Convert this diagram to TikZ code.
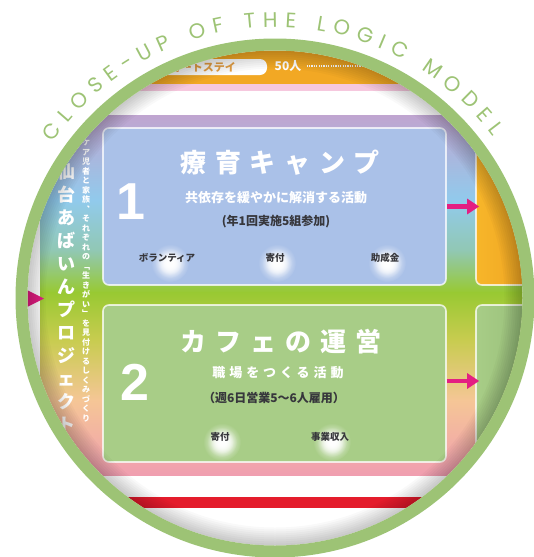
\documentclass[tikz,border=0pt]{standalone}
\usepackage{fontspec}
\setmainfont{Liberation Sans}
\newfontfamily\jp{Noto Sans CJK JP}
\newfontfamily\arcfont{Poppins}
\usetikzlibrary{decorations.text,arrows.meta,fadings}
\definecolor{ringgreen}{RGB}{157,195,117}
\definecolor{bluebox}{RGB}{170,193,232}
\definecolor{greenbox}{RGB}{168,205,135}
\definecolor{greenboxB}{RGB}{138,178,108}
\definecolor{orangeA}{RGB}{247,182,42}
\definecolor{orangeB}{RGB}{232,148,28}
\definecolor{topor}{RGB}{242,168,36}
\definecolor{magentaA}{RGB}{228,30,130}
\definecolor{redline}{RGB}{228,28,44}
\definecolor{pinkstripe}{RGB}{246,200,222}
\definecolor{fpurple}{RGB}{192,165,208}
\definecolor{fblue}{RGB}{145,202,236}
\definecolor{fteal}{RGB}{145,200,180}
\definecolor{fgreen}{RGB}{152,201,50}
\definecolor{fyellow}{RGB}{200,204,80}
\definecolor{fpeach}{RGB}{245,198,150}
\definecolor{fpink}{RGB}{240,158,176}
\definecolor{pilltext}{RGB}{232,162,70}
\definecolor{darktext}{RGB}{55,55,60}
\tikzfading[name=glowfade, inner color=transparent!0, outer color=transparent!100]
\begin{document}
\begin{tikzpicture}[x=1pt,y=-1pt,
  boxstyle/.style={draw=white, draw opacity=0.75, line width=1.6pt, rounded corners=6pt, inner sep=0pt, minimum height=157pt},
  titletext/.style={text=white, inner sep=0pt, font=\jp\bfseries\fontsize{26}{26}\selectfont\addfontfeature{LetterSpace=34}},
  subtext/.style={text=white, inner sep=0pt, font=\jp\bfseries\fontsize{13}{13}\selectfont},
  notetext/.style={text=darktext, inner sep=0pt, font=\jp\bfseries\fontsize{12}{12}\selectfont},
  numtext/.style={text=white, inner sep=0pt, font=\bfseries\fontsize{52}{52}\selectfont},
  tag/.style={text=darktext, inner sep=0pt, font=\jp\bfseries\fontsize{9.5}{9.5}\selectfont},
  glow/.style={white, path fading=glowfade},
  arr/.style={draw=magentaA, line width=4.5pt, -{Triangle[length=12pt, width=15pt]}}
]
\useasboundingbox (0,0) rectangle (534,557);
\begin{scope}
  \clip (275,298) circle (247.5);
  \fill[white] (0,0) rectangle (534,557);
  % top orange band
  \fill[topor] (0,0) rectangle (534,84);
  \fill[pinkstripe] (0,84) rectangle (534,91);
  \fill[white, rounded corners=7pt] (110,59) rectangle (267,75);
  \node[anchor=east, inner sep=0pt, text=pilltext, font=\jp\bfseries\fontsize{11}{11}\selectfont] (stay) at (236,67) {ショートステイ};
  \node[inner sep=0pt, text=white, font=\jp\bfseries\fontsize{12}{12}\selectfont] (fifty) at (288,66) {50人};
  \coordinate (dotend) at (460,66);
  \draw[white, line width=1.4pt, dash pattern=on 1.2pt off 1.2pt] ([xshift=5pt]fifty.east) -- (dotend);
  % gradient frame
  \shade[top color=fpurple, bottom color=fblue] (40,115) rectangle (560,200.5);
  \shade[top color=fblue, bottom color=fteal] (40,200) rectangle (560,250.5);
  \shade[top color=fteal, bottom color=fgreen] (40,250) rectangle (560,292.5);
  \shade[top color=fgreen, bottom color=fyellow] (40,292) rectangle (560,340.5);
  \shade[top color=fyellow, bottom color=fpeach] (40,340) rectangle (560,400.5);
  \shade[top color=fpeach, bottom color=fpink] (40,400) rectangle (560,475);
  \fill[redline] (0,497) rectangle (534,508);
  % left strip texts
  \node[anchor=north, align=center, inner sep=0pt, text=white, font=\jp\bfseries\fontsize{18}{23}\selectfont] (proj) at (66,163)
    {仙\\台\\あ\\ば\\い\\ん\\プ\\ロ\\ジ\\ェ\\ク\\ト};
  \node[anchor=north, align=center, inner sep=0pt, text=white, font=\jp\bfseries\fontsize{8}{9.5}\selectfont] (motto) at (86,139)
    {ケ\\ア\\児\\者\\と\\家\\族\\︑\\そ\\れ\\ぞ\\れ\\の\\﹁\\生\\き\\が\\い\\﹂\\を\\見\\付\\け\\る\\し\\く\\み\\づ\\く\\り};
  \fill[magentaA] (27,290) -- (44,298.5) -- (27,307) -- cycle;
  % boxes
  \node[boxstyle, fill=bluebox, minimum width=343pt] (camp) at (274.5,206.5) {};
  \node[boxstyle, fill=greenbox, minimum width=343pt] (cafe) at (274.5,383.5) {};
  \node[boxstyle, left color=orangeA, right color=orangeB, minimum width=100pt] (outA) at (526,206.5) {};
  \node[boxstyle, left color=greenbox, right color=greenboxB, minimum width=100pt] (outB) at (526,383.5) {};
  \draw[arr] (camp.east) -- ([xshift=4pt]outA.west);
  \draw[arr] ([yshift=2.5pt]cafe.east) -- ([xshift=4pt,yshift=2.5pt]outB.west);
  % box 1 content
  \node[titletext] (t1) at (280,163) {療育キャンプ};
  \node[numtext] (n1) at (131,202) {1};
  \node[subtext] (s1) at (276,198) {共依存を緩やかに解消する活動};
  \node[notetext] (m1) at (276,222) {(年1回実施5組参加)};
  \foreach \gx/\gy in {170/263, 277/263, 387/263, 222/442, 332/442} {
    \fill[glow] (\gx,\gy) circle (19);
    \fill[glow] (\gx,\gy) circle (15);
    \fill[glow] (\gx,\gy) circle (12);
  }
  \node[tag] (g1) at (167,258) {ボランティア};
  \node[tag] (g2) at (275,258) {寄付};
  \node[tag] (g3) at (385,258) {助成金};
  % box 2 content
  \node[titletext] (t2) at (281,342) {カフェの運営};
  \node[numtext] (n2) at (135,382) {2};
  \node[subtext, font=\jp\bfseries\fontsize{13}{13}\selectfont\addfontfeature{LetterSpace=30}] (s2) at (278,373) {職場をつくる活動};
  \node[notetext] (m2) at (274,398) {（週6日営業5〜6人雇用）};
  \node[tag] (g4) at (220,437) {寄付};
  \node[tag] (g5) at (330,437) {事業収入};
  % inner shadow
  \foreach \k in {2,4,...,18}
    \draw[black, opacity=0.022, line width=2pt*\k] (275,298) circle (247.5);
\end{scope}
% ring
\draw[ringgreen, line width=12pt] (275,298) circle (253.5);
% arc text
\path[decorate, decoration={text along path, text align=fit to path, text color=ringgreen,
   text={|\arcfont\fontsize{21}{21}\selectfont|CLOSE-UP OF THE LOGIC MODEL}}]
   (275,298) ++(-145:271) arc[start angle=-145, end angle=-36.5, radius=271];
\end{tikzpicture}
\end{document}
